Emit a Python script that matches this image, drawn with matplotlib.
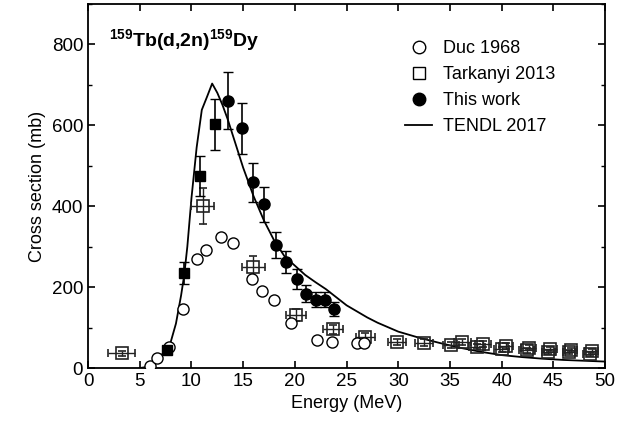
import matplotlib
matplotlib.use("Agg")
import matplotlib.pyplot as plt
from matplotlib.ticker import MultipleLocator
from matplotlib.lines import Line2D

plt.rcParams['font.family'] = ['Liberation Sans', 'DejaVu Sans']
plt.rcParams['mathtext.fontset'] = 'custom'
plt.rcParams['mathtext.rm'] = 'Liberation Sans'
plt.rcParams['mathtext.bf'] = 'Liberation Sans:bold'

# Duc 1968
duc_e = [6.0, 6.64, 7.83, 9.16, 10.57, 11.41, 12.83, 13.99, 15.83, 16.83,
         17.99, 19.6, 22.1, 23.57, 26.05, 26.7]
duc_s = [6, 25, 53, 145, 270, 292, 325, 310, 220, 191,
         168, 111, 69, 65, 61, 61]

# Tarkanyi 2013
tar_e = [3.26, 11.09, 15.99, 20.1, 23.66, 26.82, 29.85, 32.5, 35.1, 36.2,
         37.6, 38.2, 40.0, 40.4, 42.4, 42.6, 44.5, 44.7, 46.5, 46.7, 48.5, 48.7]
tar_s = [36, 401, 249, 131, 96, 77, 65, 63, 57, 65,
         53, 59, 46, 55, 44, 50, 40, 47, 40, 44, 35, 42]
tar_ex = [1.3, 1.1, 1.15, 1.0, 0.95, 0.9, 0.85, 0.85, 0.8, 0.8,
          0.75, 0.75, 0.7, 0.7, 0.7, 0.7, 0.65, 0.65, 0.6, 0.6, 0.6, 0.6]
tar_ey = [5, 45, 29, 15, 11, 9, 8, 8, 7, 8,
          7, 7, 6, 7, 6, 6, 5, 6, 5, 5, 5, 5]

# This work (first four drawn as squares in the original)
tw_e = [7.61, 9.31, 10.86, 12.28, 13.57, 14.86, 15.99, 17.05, 18.15, 19.18,
        20.18, 21.1, 22.05, 22.95, 23.79]
tw_s = [45, 235, 475, 603, 661, 592, 459, 405, 304, 262,
        220, 184, 169, 169, 146]
tw_ey = [5, 27, 50, 63, 70, 62, 48, 43, 32, 28,
         25, 20, 19, 19, 17]
n_sq = 4

# TENDL 2017
tendl_e = [5.0, 5.5, 6.0, 6.5, 7.0, 7.6, 8.0, 8.5, 9.0, 9.3, 9.6, 10.0, 10.5,
           11.0, 11.5, 12.0, 12.5, 13.0, 13.5, 14.0, 14.5, 15.0, 15.5, 16.0,
           17.0, 18.0, 19.0, 20.0, 21.0, 22.0, 23.0, 24.0, 25.0, 26.0, 27.0,
           28.0, 30.0, 32.0, 34.0, 36.0, 38.0, 40.0, 42.0, 44.0, 46.0, 48.0, 50.0]
tendl_s = [0, 2, 7, 18, 30, 45, 65, 110, 180, 230, 300, 420, 545,
           638, 670, 703, 680, 650, 615, 575, 535, 495, 460, 425,
           365, 315, 276, 253, 230, 212, 195, 175, 155, 140, 125,
           112, 90, 75, 62, 50, 40, 32, 27, 23, 20, 18, 16]

fig = plt.figure(figsize=(6.29, 4.25), dpi=100)
ax = fig.add_axes([0.14, 0.134, 0.822, 0.857])

ax.plot(tendl_e, tendl_s, color='black', lw=1.3, zorder=2)
ax.errorbar(tar_e, tar_s, xerr=tar_ex, yerr=tar_ey, fmt='s', ms=8, mfc='none',
            mec='#222222', mew=1.2, ecolor='#222222', elinewidth=1.0, capsize=3,
            zorder=3)
ax.plot(duc_e, duc_s, 'o', ms=8, mfc='white', mec='black', mew=1.0, zorder=4)
ax.errorbar(tw_e[:n_sq], tw_s[:n_sq], yerr=tw_ey[:n_sq], fmt='s', ms=7.5,
            color='black', elinewidth=1.2, capsize=3.5, zorder=5)
ax.errorbar(tw_e[n_sq:], tw_s[n_sq:], yerr=tw_ey[n_sq:], fmt='o', ms=8,
            color='black', elinewidth=1.2, capsize=3.5, zorder=5)

ax.set_xlim(0, 50)
ax.set_ylim(0, 900)
ax.xaxis.set_major_locator(MultipleLocator(5))
ax.yaxis.set_major_locator(MultipleLocator(200))
ax.yaxis.set_minor_locator(MultipleLocator(100))
ax.tick_params(which='both', direction='in', top=True, right=True, labelsize=13.5)
ax.tick_params(which='major', length=5, width=1.2)
ax.tick_params(which='minor', length=3, width=1.0)
for s in ax.spines.values():
    s.set_linewidth(1.3)

ax.set_xlabel('Energy (MeV)', fontsize=13)
ax.set_ylabel('Cross section (mb)', fontsize=13)

ax.text(2.0, 810, r'$\mathbf{^{159}}$Tb(d,2n)$\mathbf{^{159}}$Dy', fontsize=14,
        fontweight='bold', va='center', ha='left')

labels = ['Duc 1968', 'Tarkanyi 2013', 'This work', 'TENDL 2017']
handles = [Line2D([], [], ls='none', marker='o', ms=9, mfc='white', mec='black'),
           Line2D([], [], ls='none', marker='s', ms=8, mfc='white', mec='black'),
           Line2D([], [], ls='none', marker='o', ms=9, color='black'),
           Line2D([], [], color='black', lw=1.3)]
ax.legend(handles, labels, loc='upper right', frameon=False, fontsize=13,
          bbox_to_anchor=(0.935, 0.945), handlelength=1.5, labelspacing=0.5,
          handletextpad=0.6)

fig.savefig('out.png', dpi=100)
